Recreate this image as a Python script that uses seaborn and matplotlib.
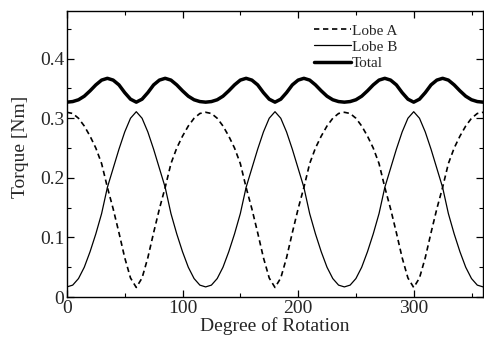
import numpy as np
import pandas as pd
import matplotlib
matplotlib.use("Agg")
import matplotlib.pyplot as plt
from matplotlib.ticker import MultipleLocator
import seaborn as sns

# degree of rotation, every 5 degrees
degree = list(range(0, 365, 5))

# torque values [Nm]
lobe_a = [0.310, 0.308, 0.300, 0.287, 0.270, 0.250, 0.224, 0.184, 0.148, 0.108, 0.066, 0.032, 0.016,
          0.032, 0.066, 0.108, 0.148, 0.184, 0.224, 0.250, 0.270, 0.287, 0.300, 0.308, 0.310,
          0.308, 0.300, 0.287, 0.270, 0.250, 0.224, 0.184, 0.148, 0.108, 0.066, 0.032, 0.016,
          0.032, 0.066, 0.108, 0.148, 0.184, 0.224, 0.250, 0.270, 0.287, 0.300, 0.308, 0.310,
          0.308, 0.300, 0.287, 0.270, 0.250, 0.224, 0.184, 0.148, 0.108, 0.066, 0.032, 0.016,
          0.032, 0.066, 0.108, 0.148, 0.184, 0.224, 0.250, 0.270, 0.287, 0.300, 0.308, 0.310]
lobe_b = [0.017, 0.020, 0.031, 0.050, 0.076, 0.106, 0.140, 0.184, 0.216, 0.248, 0.277, 0.300, 0.311,
          0.300, 0.277, 0.248, 0.216, 0.184, 0.140, 0.106, 0.076, 0.050, 0.031, 0.020, 0.017,
          0.020, 0.031, 0.050, 0.076, 0.106, 0.140, 0.184, 0.216, 0.248, 0.277, 0.300, 0.311,
          0.300, 0.277, 0.248, 0.216, 0.184, 0.140, 0.106, 0.076, 0.050, 0.031, 0.020, 0.017,
          0.020, 0.031, 0.050, 0.076, 0.106, 0.140, 0.184, 0.216, 0.248, 0.277, 0.300, 0.311,
          0.300, 0.277, 0.248, 0.216, 0.184, 0.140, 0.106, 0.076, 0.050, 0.031, 0.020, 0.017]
total = [0.327, 0.328, 0.331, 0.337, 0.346, 0.356, 0.364, 0.367, 0.364, 0.356, 0.343, 0.332, 0.327,
         0.332, 0.343, 0.356, 0.364, 0.367, 0.364, 0.356, 0.346, 0.337, 0.331, 0.328, 0.327,
         0.328, 0.331, 0.337, 0.346, 0.356, 0.364, 0.367, 0.364, 0.356, 0.343, 0.332, 0.327,
         0.332, 0.343, 0.356, 0.364, 0.367, 0.364, 0.356, 0.346, 0.337, 0.331, 0.328, 0.327,
         0.328, 0.331, 0.337, 0.346, 0.356, 0.364, 0.367, 0.364, 0.356, 0.343, 0.332, 0.327,
         0.332, 0.343, 0.356, 0.364, 0.367, 0.364, 0.356, 0.346, 0.337, 0.331, 0.328, 0.327]

df = pd.DataFrame({"deg": degree, "Lobe A": lobe_a, "Lobe B": lobe_b, "Total": total})

sns.set_style("ticks")
plt.rcParams["font.family"] = ["Liberation Serif", "DejaVu Serif"]
plt.rcParams["font.size"] = 14

fig = plt.figure(figsize=(4.85, 3.43), dpi=100)
ax = fig.add_axes([0.138, 0.134, 0.858, 0.834])

sns.lineplot(data=df, x="deg", y="Lobe A", ax=ax, color="black", lw=1.2,
             linestyle=(0, (3.2, 2.2)), label="Lobe A")
sns.lineplot(data=df, x="deg", y="Lobe B", ax=ax, color="black", lw=0.9, label="Lobe B")
sns.lineplot(data=df, x="deg", y="Total", ax=ax, color="black", lw=2.5, label="Total")

ax.set_xlim(0, 360)
ax.set_ylim(0, 0.48)
ax.xaxis.set_major_locator(MultipleLocator(100))
ax.xaxis.set_minor_locator(MultipleLocator(50))
ax.yaxis.set_major_locator(MultipleLocator(0.1))
ax.yaxis.set_minor_locator(MultipleLocator(0.05))
ax.set_yticks([0, 0.1, 0.2, 0.3, 0.4])
ax.set_yticklabels(["0", "0.1", "0.2", "0.3", "0.4"])
ax.tick_params(which="both", direction="in", top=True, right=True, color="black",
               labelsize=14, pad=2)
ax.tick_params(which="major", length=5, width=0.9)
ax.tick_params(which="minor", length=3, width=0.8)
for s in ax.spines.values():
    s.set_color("black")
    s.set_linewidth(1.0)

ax.set_xlabel("Degree of Rotation", fontsize=14, labelpad=0)
ax.set_ylabel("Torque [Nm]", fontsize=14)
ax.yaxis.set_label_coords(-0.092, 0.524)

ax.legend(loc="upper left", bbox_to_anchor=(0.579, 0.976), frameon=False, fontsize=11,
          handlelength=2.4, handletextpad=0.1, labelspacing=0.16, borderaxespad=0.0)

fig.savefig("out.png", dpi=100)
